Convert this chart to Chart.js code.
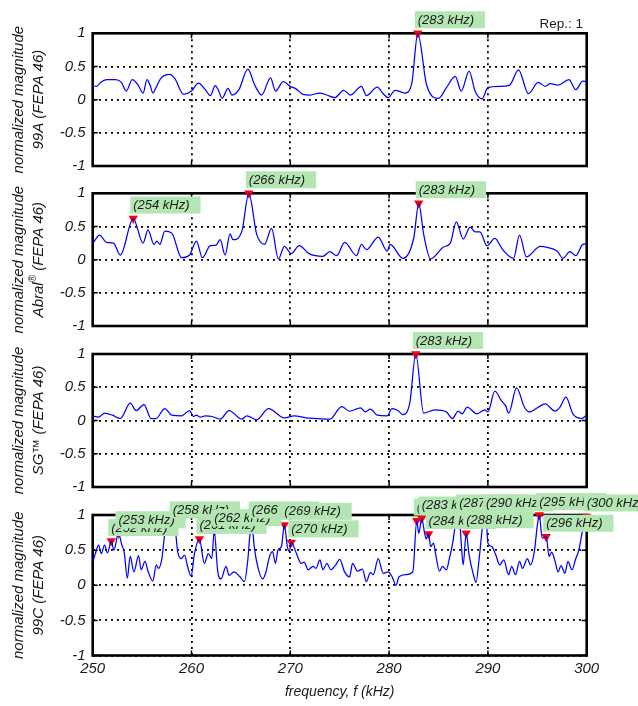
<!DOCTYPE html>
<html lang="en">
<head>
<meta charset="UTF-8">
<title>Normalized magnitude spectra</title>
<script src="https://cdn.jsdelivr.net/npm/chart.js@4"></script>
<style>
  body { margin: 0; background: #fff; }
  #quadro { position: relative; width: 638px; height: 706px; overflow: hidden; }
  #quadro canvas { position: absolute; left: 0; }
</style>
</head>
<body>
<div id="quadro"></div>

<script>
// tick labels
var freqTicks = [250, 260, 270, 280, 290, 300];
var magTicks = [-1, -0.5, 0, 0.5, 1];

// 99A (FEPA 46)
var f99A = [250, 250.4, 250.8, 251.4, 252.3, 252.9, 253.4, 254.0, 254.6, 255.1,
  255.5, 255.8, 256.1, 256.4, 256.9, 257.8, 258.3, 259.2, 260.0, 260.7,
  261.4, 261.9, 262.4, 262.7, 263.1, 263.7, 264.1, 264.8, 265.7, 266.4,
  267.1, 268.0, 268.5, 269.3, 270.0, 270.5, 271.3, 272.0, 273.0, 273.7,
  274.5, 275.4, 276.1, 277.2, 277.7, 278.8, 279.4, 279.9, 280.6, 281.6,
  282.3, 282.9, 283.8, 285.0, 285.8, 286.7, 287.3, 288.1, 288.7, 289.4,
  290.0, 291.2, 292.2, 293.1, 294.1, 295.1, 295.8, 296.3, 297.1, 298.2,
  298.9, 299.6, 300];
var m99A = [0.21, 0.20, 0.26, 0.30, 0.30, 0.26, 0.13, 0.30, 0.22, 0.10,
  0.30, 0.22, 0.10, 0.18, 0.32, 0.38, 0.32, 0.08, 0.13, 0.25,
  0.15, 0.06, 0.21, 0.15, 0.02, 0.17, 0.07, 0.15, 0.46, 0.22,
  0.07, 0.33, 0.13, 0.27, 0.20, 0.17, 0.08, 0.07, 0.10, 0.07,
  0.03, 0.14, 0.07, 0.20, 0.06, 0.19, 0.09, 0.03, 0.14, 0.10,
  0.25, 1.00, 0.22, 0.02, 0.18, 0.35, 0.13, 0.43, 0.13, 0.01,
  0.18, 0.20, 0.22, 0.45, 0.09, 0.26, 0.20, 0.24, 0.22, 0.30,
  0.15, 0.28, 0.27];
var picoF99A = [282.9];
var picoM99A = [1.00];

// Abral (FEPA 46)
var fAbral = [250, 250.7, 251.4, 252.1, 252.8, 254.1, 255.1, 255.6, 256.2, 256.5,
  256.8, 257.3, 258.0, 259.0, 259.8, 260.5, 261.1, 261.9, 262.5, 262.9,
  263.4, 263.9, 264.2, 265.1, 265.8, 266.6, 267.4, 268.1, 268.8, 269.4,
  270.1, 270.9, 271.9, 273.3, 274.0, 274.7, 275.5, 276.7, 277.2, 277.7,
  278.9, 279.8, 280.1, 281.4, 282.5, 283.0, 283.5, 284.2, 285.5, 286.2,
  286.8, 287.5, 288.2, 288.7, 289.2, 289.9, 290.7, 291.5, 292.6, 293.2,
  293.9, 295.3, 296.1, 297.0, 297.6, 298.3, 298.9, 299.6, 300];
var mAbral = [0.24, 0.37, 0.26, 0.25, 0.07, 0.62, 0.25, 0.45, 0.23, 0.28,
  0.23, 0.43, 0.40, 0.03, 0.07, 0.28, 0.03, 0.21, 0.22, 0.30,
  0.07, 0.39, 0.30, 0.43, 1.00, 0.38, 0.23, 0.47, 0.01, 0.20,
  0.09, 0.21, 0.09, 0.05, 0.12, 0.06, 0.26, 0.06, 0.23, 0.15,
  0.34, 0.13, 0.23, 0.02, 0.33, 0.85, 0.38, 0.01, 0.19, 0.25,
  0.57, 0.31, 0.49, 0.42, 0.42, 0.21, 0.32, 0.15, 0.02, 0.37,
  0.04, 0.20, 0.18, 0.13, 0.02, 0.12, 0.06, 0.23, 0.24];
var picoFAbral = [254.1, 265.8, 283.0];
var picoMAbral = [0.62, 1.00, 0.85];

// SG (FEPA 46)
var fSG = [250, 250.6, 251.2, 252.0, 252.8, 253.8, 254.4, 255.2, 255.9, 256.4,
  257.3, 258.0, 259.0, 259.8, 260.2, 260.5, 260.9, 261.4, 262.1, 262.9,
  263.8, 265.1, 265.6, 266.6, 267.8, 269.4, 270.4, 271.6, 272.7, 274.0,
  275.2, 276.0, 277.1, 277.6, 278.1, 278.8, 279.8, 280.3, 280.9, 281.4,
  282.1, 282.7, 283.5, 284.6, 285.8, 286.4, 287.0, 287.4, 287.9, 288.9,
  289.7, 290.0, 290.7, 291.4, 291.8, 292.1, 292.9, 293.7, 294.2, 295.1,
  295.8, 296.8, 297.3, 297.9, 298.6, 299.5, 300];
var mSG = [0.07, 0.05, 0.11, 0.08, 0.03, 0.26, 0.15, 0.24, 0.03, 0.03,
  0.18, 0.08, 0.07, 0.15, 0.06, 0.08, 0.05, 0.07, 0.06, 0.02,
  0.15, 0.02, 0.07, 0.01, 0.18, 0.04, 0.07, 0.04, 0.03, 0.02,
  0.21, 0.14, 0.19, 0.13, 0.17, 0.08, 0.07, 0.18, 0.15, 0.09,
  0.27, 1.00, 0.11, 0.16, 0.13, 0.03, 0.14, 0.10, 0.20, 0.10,
  0.16, 0.13, 0.44, 0.29, 0.22, 0.11, 0.49, 0.20, 0.13, 0.20,
  0.25, 0.14, 0.20, 0.35, 0.10, 0.03, 0.08];
var picoFSG = [282.7];
var picoMSG = [1.00];

// 99C (FEPA 46)
var f99C = [250.0, 250.27, 250.6, 250.87, 251.2, 251.5, 251.88, 252.15, 252.6, 252.96,
  253.2, 253.5, 253.8, 254.17, 254.64, 254.9, 255.3, 255.6, 256.09, 256.43,
  256.66, 257.0, 257.3, 257.67, 258.1, 258.35, 258.6, 258.95, 259.3, 259.6,
  259.96, 260.3, 260.8, 261.3, 261.7, 262.05, 262.3, 262.66, 262.99, 263.5,
  263.8, 264.3, 264.9, 265.35, 265.7, 265.9, 266.1, 266.35, 266.7, 267.2,
  267.5, 267.9, 268.2, 268.5, 268.75, 269.1, 269.4, 269.7, 269.9, 270.1,
  270.6, 271.1, 271.4, 271.8, 272.3, 272.6, 273.0, 273.3, 273.7, 274.1,
  274.6, 275.0, 275.5, 276.0, 276.3, 276.8, 277.3, 277.7, 278.1, 278.4,
  278.9, 279.4, 279.9, 280.3, 280.7, 281.0, 281.7, 282.4, 282.8, 283.0,
  283.3, 283.6, 283.75, 284.0, 284.2, 284.5, 284.7, 285.1, 285.4, 285.8,
  286.1, 286.4, 286.8, 287.1, 287.3, 287.5, 287.8, 288.1, 288.5, 288.8,
  289.1, 289.5, 289.8, 290.0, 290.4, 290.8, 291.2, 291.6, 292.1, 292.4,
  292.8, 293.2, 293.5, 294.0, 294.3, 294.7, 295.0, 295.2, 295.5, 295.9,
  296.2, 296.45, 296.8, 297.1, 297.4, 297.8, 298.1, 298.5, 298.9, 299.2,
  299.6, 300.0];
var m99C = [0.33, 0.45, 0.57, 0.45, 0.57, 0.46, 0.63, 0.50, 0.74, 0.57,
  0.46, 0.10, 0.41, 0.19, 0.42, 0.22, 0.34, 0.20, 0.06, 0.29,
  0.24, 0.38, 0.73, 0.83, 0.88, 0.80, 0.48, 0.38, 0.43, 0.27,
  0.13, 0.45, 0.66, 0.31, 0.45, 0.38, 0.77, 0.19, 0.09, 0.27,
  0.14, 0.19, 0.12, 0.05, 0.36, 0.70, 0.88, 0.55, 0.27, 0.09,
  0.17, 0.41, 0.48, 0.31, 0.50, 0.55, 0.86, 0.55, 0.48, 0.61,
  0.46, 0.31, 0.33, 0.22, 0.27, 0.24, 0.36, 0.22, 0.31, 0.22,
  0.29, 0.37, 0.19, 0.12, 0.31, 0.20, 0.23, 0.05, 0.18, 0.15,
  0.38, 0.17, 0.19, 0.12, 0.00, 0.12, 0.15, 0.19, 0.92, 0.74,
  0.95, 0.74, 0.66, 0.73, 0.55, 0.60, 0.45, 0.20, 0.27, 0.22,
  0.38, 0.57, 0.93, 0.98, 0.60, 0.29, 0.74, 0.43, 0.17, 0.04,
  0.36, 0.88, 0.98, 0.60, 0.55, 0.43, 0.29, 0.36, 0.15, 0.27,
  0.15, 0.34, 0.24, 0.38, 0.29, 0.48, 0.85, 1.00, 0.67, 0.69,
  0.41, 0.47, 0.34, 0.19, 0.28, 0.17, 0.34, 0.22, 0.38, 0.50,
  0.79, 0.98];
var picoF99C = [251.88, 252.6, 258.1, 260.8, 262.3, 266.1, 269.4, 270.1, 282.8, 283.3,
  284.0, 287.1, 287.8, 289.8, 295.2, 295.9, 300];
var picoM99C = [0.63, 0.74, 0.88, 0.66, 0.77, 0.88, 0.86, 0.61, 0.92, 0.95,
  0.73, 0.98, 0.74, 0.98, 1.00, 0.69, 0.98];

var nomes = ['99A', 'Abral®', 'SG™', '99C'];

// posicao das areas de plot (px)
var ESQ = 92.7, DIR = 586.7, ALT = 140.5;
var topos = [33.3, 193.3, 354, 515];

var FONTE = '"Liberation Sans", Arial, Helvetica, sans-serif';
Chart.defaults.font.family = FONTE;
Chart.defaults.color = '#1a1a1a';

var paineis = [
  { f: f99A, m: m99A, pf: picoF99A, pm: picoM99A },
  { f: fAbral, m: mAbral, pf: picoFAbral, pm: picoMAbral },
  { f: fSG, m: mSG, pf: picoFSG, pm: picoMSG },
  { f: f99C, m: m99C, pf: picoF99C, pm: picoM99C }
];

// moldura preta + marcas de tick para dentro
var molduraPlugin = {
  id: 'moldura',
  beforeDatasetsDraw: function (chart) {
    var ctx = chart.ctx, a = chart.chartArea, sx = chart.scales.x, sy = chart.scales.y;
    ctx.save();
    ctx.strokeStyle = '#000';
    ctx.lineWidth = 1.5;
    ctx.beginPath();
    sy.ticks.forEach(function (t) {
      var y = sy.getPixelForValue(t.value);
      ctx.moveTo(a.left, y); ctx.lineTo(a.left + 5, y);
      ctx.moveTo(a.right, y); ctx.lineTo(a.right - 5, y);
    });
    sx.ticks.forEach(function (t) {
      var x = sx.getPixelForValue(t.value);
      ctx.moveTo(x, a.top); ctx.lineTo(x, a.top + 5);
      ctx.moveTo(x, a.bottom); ctx.lineTo(x, a.bottom - 5);
    });
    ctx.stroke();
    ctx.lineWidth = 2.6;
    ctx.strokeRect(a.left, a.top, a.right - a.left, a.bottom - a.top);
    ctx.restore();
  }
};

// caixas verdes com a frequencia dos picos
var rotulosPlugin = {
  id: 'rotulos',
  afterDatasetsDraw: function (chart, args, opts) {
    var ctx = chart.ctx, sx = chart.scales.x, sy = chart.scales.y;
    ctx.save();
    ctx.font = 'italic 13px ' + FONTE;
    ctx.textBaseline = 'middle';
    opts.pf.forEach(function (f, i) {
      var px = sx.getPixelForValue(f), py = sy.getPixelForValue(opts.pm[i]);
      var txt = '(' + Math.round(f) + ' kHz)';
      var w = ctx.measureText(txt).width + 14;
      var bx = px - 3, by = py - 22;
      ctx.fillStyle = 'rgb(179,230,179)';
      ctx.fillRect(bx, by, w, 17);
      ctx.fillStyle = '#1a1a1a';
      ctx.fillText(txt, bx + 3, by + 9);
    });
    ctx.restore();
  }
};

// titulo do eixo y em duas linhas (com sobrescrito no ®)
var tituloYPlugin = {
  id: 'tituloY',
  afterDraw: function (chart, args, opts) {
    var ctx = chart.ctx, a = chart.chartArea;
    var cy = (a.top + a.bottom) / 2;
    var fn = 'italic 15px ' + FONTE, fs = 'italic 10px ' + FONTE;
    ctx.save();
    ctx.fillStyle = '#1a1a1a';
    ctx.textBaseline = 'middle';
    // linha 1
    ctx.save();
    ctx.translate(19, cy);
    ctx.rotate(-Math.PI / 2);
    ctx.font = fn;
    ctx.textAlign = 'center';
    ctx.fillText('normalized magnitude', 0, 0);
    ctx.restore();
    // linha 2
    var partes = [];
    var nome = opts.nome;
    var k = nome.indexOf('®');
    if (k >= 0) {
      partes.push({ t: nome.slice(0, k), sup: false });
      partes.push({ t: '®', sup: true });
      partes.push({ t: nome.slice(k + 1) + ' (FEPA 46)', sup: false });
    } else {
      partes.push({ t: nome + ' (FEPA 46)', sup: false });
    }
    var total = 0;
    partes.forEach(function (p) { ctx.font = p.sup ? fs : fn; p.w = ctx.measureText(p.t).width; total += p.w; });
    ctx.save();
    ctx.translate(38.5, cy);
    ctx.rotate(-Math.PI / 2);
    ctx.textAlign = 'left';
    var x = -total / 2;
    partes.forEach(function (p) {
      ctx.font = p.sup ? fs : fn;
      ctx.fillText(p.t, x, p.sup ? -5 : 0);
      x += p.w;
    });
    ctx.restore();

    if (opts.rep) {
      ctx.font = '13.5px ' + FONTE;
      ctx.textAlign = 'right';
      ctx.fillText('Rep.: 1', 583, 24);
    }
    if (opts.tituloX) {
      ctx.font = 'italic 14px ' + FONTE;
      ctx.textAlign = 'center';
      ctx.fillText('frequency, f (kHz)', (a.left + a.right) / 2, opts.tituloX);
    }
    ctx.restore();
  }
};

var quadro = document.getElementById('quadro');

paineis.forEach(function (p, i) {
  var ultimo = (i === paineis.length - 1);
  var topoCanvas = Math.max(0, Math.floor(topos[i]) - 40);
  var padTopo = topos[i] - topoCanvas;
  var altX = ultimo ? 45 : 0;
  var altCanvas = ultimo ? (706 - topoCanvas) : Math.ceil(padTopo + ALT + 8);
  var padBaixo = altCanvas - padTopo - ALT - altX;

  var cv = document.createElement('canvas');
  cv.width = 638;
  cv.height = altCanvas;
  cv.style.top = topoCanvas + 'px';
  quadro.appendChild(cv);

  var curva = p.f.map(function (v, j) { return { x: v, y: p.m[j] }; });
  var picos = p.pf.map(function (v, j) { return { x: v, y: p.pm[j] }; });

  new Chart(cv.getContext('2d'), {
    type: 'line',
    data: {
      datasets: [
        {
          data: curva,
          borderColor: '#0000ff',
          borderWidth: 1.25,
          pointRadius: 0,
          cubicInterpolationMode: 'monotone',
          fill: false
        },
        {
          data: picos,
          showLine: false,
          pointStyle: 'triangle',
          rotation: 180,
          pointRadius: 5.4,
          backgroundColor: '#ff0000',
          borderColor: '#ff0000',
          borderWidth: 0,
          clip: false
        }
      ]
    },
    options: {
      responsive: false,
      animation: false,
      events: [],
      layout: { padding: { left: 0, right: 638 - DIR, top: padTopo, bottom: padBaixo } },
      scales: {
        x: {
          type: 'linear',
          min: freqTicks[0],
          max: freqTicks[freqTicks.length - 1],
          afterBuildTicks: function (s) { s.ticks = freqTicks.map(function (v) { return { value: v }; }); },
          afterFit: function (s) { s.height = altX; },
          ticks: {
            display: ultimo,
            padding: 4,
            maxRotation: 0,
            font: { size: 15, style: 'italic' },
            color: '#1a1a1a',
            callback: function (v) { return String(v); }
          },
          grid: { color: '#000', lineWidth: 1.8, drawTicks: false },
          border: { display: false, dash: [2, 4] }
        },
        y: {
          min: magTicks[0],
          max: magTicks[magTicks.length - 1],
          afterBuildTicks: function (s) { s.ticks = magTicks.map(function (v) { return { value: v }; }); },
          afterFit: function (s) { s.width = ESQ; },
          ticks: {
            padding: 7,
            font: { size: 15, style: 'italic' },
            color: '#1a1a1a',
            callback: function (v) { return String(v); }
          },
          grid: { color: '#000', lineWidth: 1.8, drawTicks: false },
          border: { display: false, dash: [2, 4] }
        }
      },
      plugins: {
        legend: { display: false },
        tooltip: { enabled: false },
        rotulos: { pf: p.pf, pm: p.pm },
        tituloY: { nome: nomes[i], rep: i === 0, tituloX: ultimo ? 692 - topoCanvas : 0 }
      }
    },
    plugins: [molduraPlugin, rotulosPlugin, tituloYPlugin]
  });
});
</script>
</body>
</html>
